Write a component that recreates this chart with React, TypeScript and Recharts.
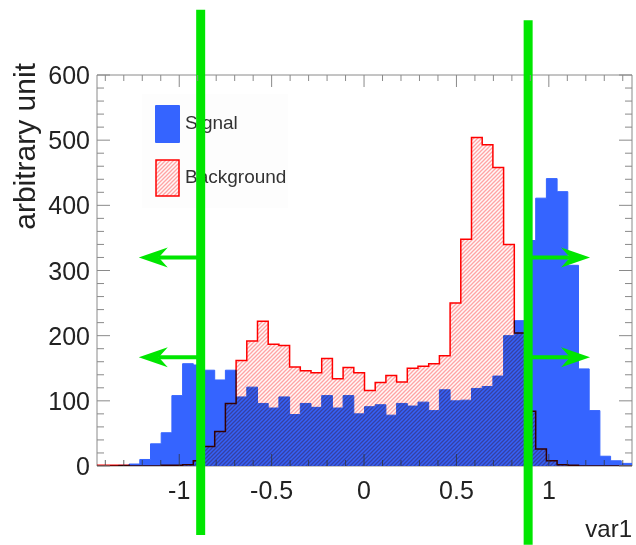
import React from 'react';
import { ComposedChart, Area, XAxis, YAxis, ReferenceLine, ReferenceArea, Label } from 'recharts';

// histogram binning of var1
const N_BINS = 50;
const X_LO = -1.445;
const X_HI = 1.45;

const signal = [
  0, 0, 1, 3, 10, 34, 51, 108, 157, 155,
  147, 132, 147, 106, 121, 96, 89, 106, 79, 96,
  90, 108, 89, 108, 80, 91, 94, 78, 96, 92,
  98, 85, 117, 100, 101, 119, 122, 138, 200, 223,
  346, 411, 441, 421, 308, 149, 85, 15, 8, 4,
];
const background = [
  1, 1, 1, 0, 0, 0, 1, 1, 2, 8,
  30, 53, 96, 162, 192, 222, 187, 185, 152, 146,
  143, 165, 134, 151, 143, 116, 128, 139, 129, 150,
  153, 157, 169, 250, 348, 504, 493, 458, 340, 204,
  84, 26, 8, 2, 1, 0, 0, 0, 0, 0,
];

const xTicks = [-1, -0.5, 0, 0.5, 1];
const xMinorTicks = [-1.4, -1.3, -1.2, -1.1, -0.9, -0.8, -0.7, -0.6, -0.4, -0.3, -0.2, -0.1,
  0.1, 0.2, 0.3, 0.4, 0.6, 0.7, 0.8, 0.9, 1.1, 1.2, 1.3, 1.4];
const yTicks = [0, 100, 200, 300, 400, 500, 600];
const yMinorTicks = [20, 40, 60, 80, 120, 140, 160, 180, 220, 240, 260, 280, 320, 340, 360, 380,
  420, 440, 460, 480, 520, 540, 560, 580];

// rectangular cuts drawn on top
const cuts = [-0.884, 0.888];
const arrowLevels = [320, 167];
const ARROW_LEN = 0.335;

const FONT = '"Liberation Sans", Arial, Helvetica, sans-serif';
const BLUE = '#3564ff';
const RED = '#ff0000';
const GREEN = '#00e600';
const FRAME = '#8a8a8a';

const W = 636;
const H = 545;
const MARGIN = { top: 75, right: 4, left: 97, bottom: 79 };
const PLOT = { left: MARGIN.left, right: W - MARGIN.right, top: MARGIN.top, bottom: H - MARGIN.bottom };
// bottom tick lengths in y units (12px / 6px of a 391px tall 0..600 axis)
const TICK_MAJOR_Y = 18.4;
const TICK_MINOR_Y = 9.2;

const binWidth = (X_HI - X_LO) / N_BINS;
const rows = signal.map((s, i) => ({ x: X_LO + i * binWidth, signal: s, background: background[i] }));
rows.push({ x: X_HI, signal: signal[N_BINS - 1], background: background[N_BINS - 1] });

// ROOT style: ticks point inwards on all four sides, labels only on majors
const XTick = (props: any) => {
  const { payload } = props;
  const cx = payload.coordinate;
  const major = xTicks.includes(payload.value);
  const len = major ? 12 : 6;
  return (
    <g>
      <line x1={cx} y1={PLOT.top} x2={cx} y2={PLOT.top + len} stroke={FRAME} />
      {major && (
        <text x={cx} y={PLOT.bottom + 33} textAnchor="middle" fontSize={25} fontFamily={FONT} fill="#222">
          {String(payload.value)}
        </text>
      )}
    </g>
  );
};

const YTick = (props: any) => {
  const { payload } = props;
  const cy = payload.coordinate;
  const major = yTicks.includes(payload.value);
  const len = major ? 13 : 7;
  return (
    <g>
      <line x1={PLOT.left} y1={cy} x2={PLOT.left + len} y2={cy} stroke={FRAME} />
      <line x1={PLOT.right} y1={cy} x2={PLOT.right - len} y2={cy} stroke={FRAME} />
      {major && (
        <text x={PLOT.left - 7} y={cy} dy="0.36em" textAnchor="end" fontSize={25} fontFamily={FONT} fill="#222">
          {String(payload.value)}
        </text>
      )}
    </g>
  );
};

const Arrow = (props: any) => {
  const { x1, y1, x2, y2 } = props;
  const dir = Math.sign(x2 - x1);
  const head = 29;
  const half = 10;
  const notch = 20;
  return (
    <g>
      <line x1={x1} y1={y1} x2={x2 - dir * notch} y2={y2} stroke={GREEN} strokeWidth={4} />
      <polygon
        points={`${x2},${y2} ${x2 - dir * head},${y2 - half} ${x2 - dir * notch},${y2} ${x2 - dir * head},${y2 + half}`}
        fill={GREEN}
      />
    </g>
  );
};

const YTitle = () => {
  const x = 35;
  const y = PLOT.top - 12;
  return (
    <text x={x} y={y} transform={`rotate(-90 ${x} ${y})`} textAnchor="end" fontSize={30} fontFamily={FONT} fill="#222">
      arbitrary unit
    </text>
  );
};

const XTitle = () => (
  <text x={PLOT.right} y={PLOT.bottom + 71} textAnchor="end" fontSize={24} fontFamily={FONT} fill="#222">
    var1
  </text>
);

const HatchSwatch = () => (
  <svg width={25} height={38} style={{ display: 'block' }}>
    <defs>
      <pattern id="legendHatch" width="4" height="4" patternUnits="userSpaceOnUse">
        <rect width="4" height="4" fill="#fff8f8" />
        <path d="M-1,1 l2,-2 M0,4 l4,-4 M3,5 l2,-2" stroke="#ffa4a4" strokeWidth={1.3} />
      </pattern>
    </defs>
    <rect x={1} y={1} width={23} height={36} fill="url(#legendHatch)" stroke={RED} strokeWidth={1.5} />
  </svg>
);

const App: React.FC = () => {
  return (
    <div style={{ position: 'absolute', left: 0, top: 0, width: W, height: H, background: '#fff' }}>
      <style>{'.bkg-area { mix-blend-mode: multiply; }'}</style>

      {/* legend sits under the chart so the cut lines cross it */}
      <div
        style={{
          position: 'absolute',
          left: 142,
          top: 94,
          width: 146,
          height: 114,
          background: '#fdfdfd',
          fontFamily: FONT,
          fontSize: 19,
          color: '#333',
        }}
      >
        <div style={{ position: 'absolute', left: 13, top: 11, width: 25, height: 38, background: BLUE, borderRadius: 1 }} />
        <div style={{ position: 'absolute', left: 43, top: 18, lineHeight: '22px' }}>Signal</div>
        <div style={{ position: 'absolute', left: 13, top: 65 }}>
          <HatchSwatch />
        </div>
        <div style={{ position: 'absolute', left: 43, top: 72, lineHeight: '22px' }}>Background</div>
      </div>

      <div style={{ position: 'absolute', left: 0, top: 0 }}>
        <ComposedChart width={W} height={H} data={rows} margin={{ top: MARGIN.top, right: MARGIN.right, bottom: 0, left: 0 }}>
          <defs>
            <pattern id="bkgHatch" width="4" height="4" patternUnits="userSpaceOnUse">
              <rect width="4" height="4" fill="#fff8f8" />
              <path d="M-1,1 l2,-2 M0,4 l4,-4 M3,5 l2,-2" stroke="#ffa4a4" strokeWidth={1.3} />
            </pattern>
          </defs>

          <XAxis
            xAxisId="main"
            dataKey="x"
            type="number"
            domain={[X_LO, X_HI]}
            allowDataOverflow
            ticks={[...xTicks, ...xMinorTicks]}
            interval={0}
            height={MARGIN.bottom}
            axisLine={false}
            tickLine={false}
            tick={<XTick />}
          >
            <Label content={<XTitle />} />
          </XAxis>
          <YAxis
            yAxisId="main"
            type="number"
            domain={[0, 600]}
            allowDataOverflow
            ticks={[...yTicks, ...yMinorTicks]}
            interval={0}
            width={MARGIN.left}
            axisLine={false}
            tickLine={false}
            tick={<YTick />}
          >
            <Label content={<YTitle />} />
          </YAxis>

          <ReferenceArea
            xAxisId="main"
            yAxisId="main"
            x1={X_LO}
            x2={X_HI}
            y1={0}
            y2={600}
            fill="none"
            fillOpacity={0}
            stroke={FRAME}
            strokeWidth={1}
            strokeOpacity={1}
            ifOverflow="visible"
          />

          <Area
            xAxisId="main"
            yAxisId="main"
            type="stepAfter"
            dataKey="signal"
            stroke={BLUE}
            strokeWidth={1}
            fill={BLUE}
            fillOpacity={1}
            isAnimationActive={false}
            dot={false}
            activeDot={false}
          />
          <Area
            xAxisId="main"
            yAxisId="main"
            className="bkg-area"
            type="stepAfter"
            dataKey="background"
            stroke={RED}
            strokeWidth={1.5}
            fill="url(#bkgHatch)"
            fillOpacity={1}
            isAnimationActive={false}
            dot={false}
            activeDot={false}
          />

          {/* bottom ticks are drawn over the histograms, as in the original */}
          {[...xTicks, ...xMinorTicks].map((t) => (
            <ReferenceLine
              key={`bt${t}`}
              xAxisId="main"
              yAxisId="main"
              segment={[{ x: t, y: 0 }, { x: t, y: xTicks.includes(t) ? TICK_MAJOR_Y : TICK_MINOR_Y }]}
              stroke="#333"
              strokeOpacity={0.75}
              strokeWidth={1}
            />
          ))}

          {cuts.map((c) => (
            <ReferenceLine
              key={`cut${c}`}
              xAxisId="main"
              yAxisId="main"
              segment={[{ x: c, y: c < 0 ? -106 : -121 }, { x: c, y: c < 0 ? 700 : 684 }]}
              ifOverflow="visible"
              stroke={GREEN}
              strokeWidth={9}
            />
          ))}
          {cuts.map((c) =>
            arrowLevels.map((lv) => (
              <ReferenceLine
                key={`arr${c}${lv}`}
                xAxisId="main"
                yAxisId="main"
                segment={[{ x: c, y: lv }, { x: c + Math.sign(c) * ARROW_LEN, y: lv }]}
                ifOverflow="visible"
                stroke={GREEN}
                shape={<Arrow />}
              />
            ))
          )}
        </ComposedChart>
      </div>
    </div>
  );
};

export default App;
